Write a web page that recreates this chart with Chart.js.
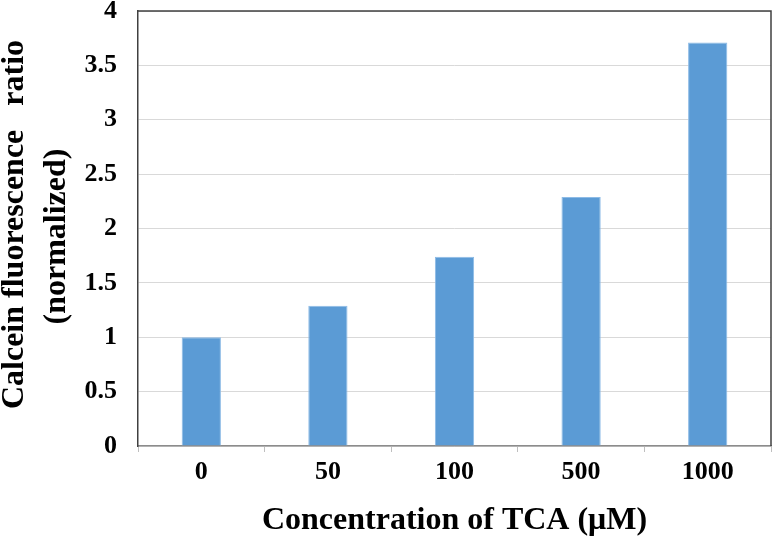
<!DOCTYPE html>
<html>
<head>
<meta charset="utf-8">
<script src="https://cdn.jsdelivr.net/npm/chart.js@4"></script>
<style>
  html, body { margin: 0; padding: 0; background: #fff; }
  #wrap { width: 774px; height: 542px; }
</style>
</head>
<body>
<div id="wrap"><canvas id="chart"></canvas></div>
<script>
const FONT = "'Liberation Serif', 'Times New Roman', serif";
const BAR_COLOR = "#5b9bd5";

const categories = ["0", "50", "100", "500", "1000"];
const ratios = [1.0, 1.29, 1.74, 2.29, 3.71];
const yTitle = ["\u00a0Calcein fluorescence \u00a0\u00a0ratio", "(normalized)\u00a0\u00a0"];
const xTitle = "Concentration of TCA (\u03bcM)";

// dark frame on top and right of the plot area
const framePlugin = {
  id: "frame",
  afterDraw(chart) {
    const { ctx, chartArea: a } = chart;
    ctx.save();
    ctx.strokeStyle = "#404040";
    ctx.lineWidth = 1.5;
    ctx.beginPath();
    ctx.moveTo(a.left, a.top);
    ctx.lineTo(a.right, a.top);
    ctx.lineTo(a.right, a.bottom);
    ctx.stroke();
    ctx.restore();
  },
};

new Chart(document.getElementById("chart"), {
  type: "bar",
  data: {
    labels: categories,
    datasets: [{
      data: ratios,
      backgroundColor: BAR_COLOR,
      borderColor: "#8dbbe6",
      borderWidth: 1,
      categoryPercentage: 1,
      barPercentage: 0.31,
    }],
  },
  options: {
    responsive: true,
    maintainAspectRatio: false,
    animation: false,
    layout: { padding: { top: 11, right: 3, left: 0, bottom: 0 } },
    plugins: { legend: { display: false }, tooltip: { enabled: false } },
    scales: {
      x: {
        afterFit(scale) { scale.height = 96; },
        grid: { drawOnChartArea: false, drawTicks: true, tickLength: 6, color: "#bfbfbf" },
        border: { color: "#8c8c8c", width: 1.5 },
        ticks: { color: "#000", padding: 5, font: { family: FONT, size: 26, weight: "bold" } },
        title: {
          display: true,
          text: xTitle,
          color: "#000",
          padding: { top: 0, bottom: 2 },
          font: { family: FONT, size: 32, weight: "bold" },
        },
      },
      y: {
        min: 0,
        max: 4,
        afterFit(scale) {
          scale.width = 138;
          scale.paddingTop = 0;
          scale.paddingBottom = 0;
        },
        grid: { color: "#d9d9d9", drawTicks: false },
        border: { color: "#404040", width: 1.5 },
        ticks: {
          stepSize: 0.5,
          color: "#000",
          padding: 21,
          callback: (v) => String(v),
          font: { family: FONT, size: 26, weight: "bold", lineHeight: 1 },
        },
        title: {
          display: true,
          text: yTitle,
          color: "#000",
          padding: { top: -6, bottom: 0 },
          font: { family: FONT, size: 32, weight: "bold", lineHeight: 1.3125 },
        },
      },
    },
  },
  plugins: [framePlugin],
});
</script>
</body>
</html>
